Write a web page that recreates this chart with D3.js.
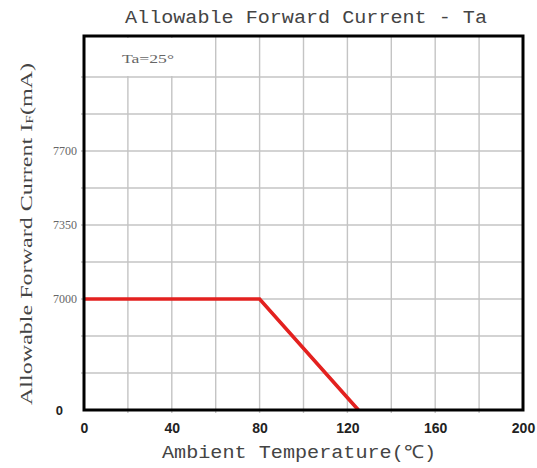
<!DOCTYPE html>
<html>
<head>
<meta charset="utf-8">
<script src="https://cdn.jsdelivr.net/npm/d3@7"></script>
<style>
  html, body { margin: 0; padding: 0; background: #fff; }
  svg { display: block; }
</style>
</head>
<body>
<svg id="chart" width="537" height="468"></svg>
<script>
// ---- data ----
const temps = [0, 80, 125];              // Ambient temperature (°C)
const currents = [7000, 7000, 0];        // Allowable forward current (mA)
const xTickValues = [0, 40, 80, 120, 160, 200];
const xGridValues = [0, 20, 40, 60, 80, 100, 120, 140, 160, 180, 200];
const yTickValues = [0, 7000, 7350, 7700];
const yTickLabels = ["0", "7000", "7350", "7700"];
const rowCount = 10;

const titleText = "Allowable Forward Current - Ta";
const xLabelText = "Ambient Temperature(℃)";
const yLabelMain = "Allowable Forward Current  I";
const yLabelSub = "F";
const yLabelEnd = "(mA)";
const noteText = "Ta=25°";

// ---- layout ----
const L = 84, R = 523, T = 36, B = 410;

const svg = d3.select("#chart");

const x = d3.scaleLinear().domain([0, 200]).range([L, R]);
// grid rows: 9 equal rows, top row slightly taller
const row = d3.scaleLinear().domain([0, 9, rowCount]).range([B, 77, T]);
// piecewise (broken) axis: 0..7000 spans 3 rows, above that 175 mA per row
const y = d3.scaleLinear().domain([0, 7000, 7700]).range([row(0), row(3), row(7)]);

const grid = svg.append("g").attr("stroke", "#c4c4c4").attr("stroke-width", 1.4);
// horizontal grid
grid.selectAll("line.h").data(d3.range(1, rowCount)).join("line")
  .attr("x1", L - 3).attr("x2", R)
  .attr("y1", d => row(d)).attr("y2", d => row(d));
// vertical grid
grid.selectAll("line.v").data(xGridValues.slice(1, -1)).join("line")
  .attr("x1", d => x(d)).attr("x2", d => x(d))
  .attr("y1", T).attr("y2", B + 3);

// white box behind note (covers grid in top-left cell)
svg.append("rect")
  .attr("x", x(0) + 2).attr("y", T + 2)
  .attr("width", x(60) - x(0) - 3).attr("height", row(9) - T - 3)
  .attr("fill", "#fff");
svg.append("text")
  .attr("x", 122).attr("y", 63)
  .attr("font-family", "Liberation Serif, serif").attr("font-size", 13)
  .attr("fill", "#666").attr("textLength", 52).attr("lengthAdjust", "spacingAndGlyphs")
  .text(noteText);

// data line
const line = d3.line().x(d => x(d[0])).y(d => y(d[1]));
svg.append("path")
  .datum(temps.map((t, i) => [t, currents[i]]))
  .attr("d", line)
  .attr("fill", "none").attr("stroke", "#e3211f").attr("stroke-width", 3.6)
  .attr("stroke-linejoin", "miter");

// frame
svg.append("rect")
  .attr("x", L).attr("y", T).attr("width", R - L).attr("height", B - T)
  .attr("fill", "none").attr("stroke", "#000").attr("stroke-width", 3);

// x axis ticks (labels only)
const xAxis = d3.axisBottom(x).tickValues(xTickValues).tickSize(0).tickPadding(13);
const gx = svg.append("g").attr("transform", `translate(0,${B})`).call(xAxis);
gx.select(".domain").remove();
gx.selectAll("text")
  .attr("font-family", "Liberation Sans, Arial, sans-serif")
  .attr("font-size", 14).attr("font-weight", "bold").attr("fill", "#222");

// y axis ticks (labels only)
const yAxis = d3.axisLeft(y).tickValues(yTickValues)
  .tickFormat((d, i) => yTickLabels[i]).tickSize(0).tickPadding(7);
const gy = svg.append("g").attr("transform", `translate(${L},0)`).call(yAxis);
gy.select(".domain").remove();
gy.selectAll("text")
  .attr("font-family", d => d === 0 ? "Liberation Sans, Arial, sans-serif" : "Liberation Serif, serif")
  .attr("font-size", d => d === 0 ? 13 : 12)
  .attr("font-weight", d => d === 0 ? "bold" : "normal")
  .attr("fill", d => d === 0 ? "#222" : "#666")
  .attr("dx", d => d === 0 ? -14 : 0);

// title
svg.append("text")
  .attr("x", 125).attr("y", 23)
  .attr("font-family", "Liberation Mono, monospace").attr("font-size", 18)
  .attr("fill", "#444").attr("textLength", 362).attr("lengthAdjust", "spacingAndGlyphs")
  .text(titleText);

// x label
svg.append("text")
  .attr("x", 162).attr("y", 458)
  .attr("font-family", "Liberation Mono, monospace").attr("font-size", 18)
  .attr("fill", "#444").attr("textLength", 274).attr("lengthAdjust", "spacingAndGlyphs")
  .text(xLabelText);

// y label
const yl = svg.append("text")
  .attr("transform", "translate(32,405) rotate(-90)")
  .attr("font-family", "Liberation Serif, serif").attr("font-size", 17)
  .attr("fill", "#444").attr("textLength", 342).attr("lengthAdjust", "spacingAndGlyphs");
yl.append("tspan").text(yLabelMain);
yl.append("tspan").attr("font-size", 11).attr("dy", 1).text(yLabelSub);
yl.append("tspan").attr("dy", -1).text(yLabelEnd);
</script>
</body>
</html>
